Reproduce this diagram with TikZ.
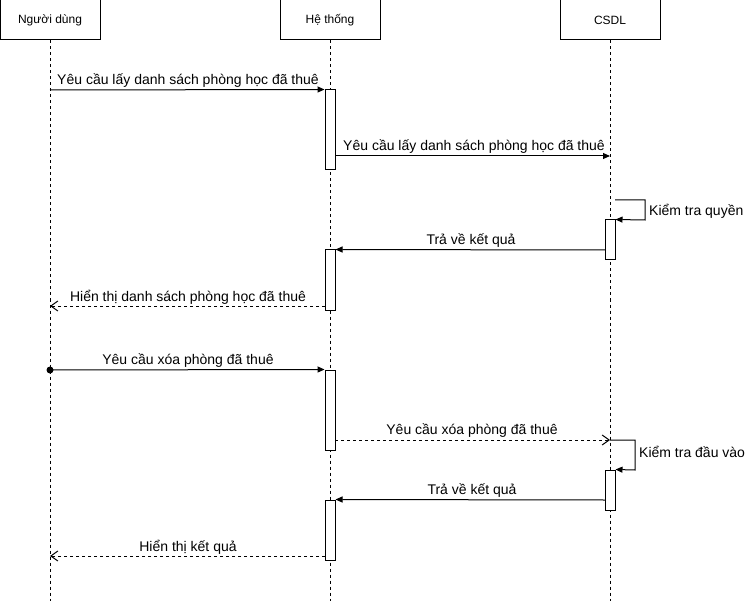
\documentclass[tikz,border=0pt]{standalone}
\usepackage{fontspec}
\setmainfont{Liberation Sans}
\usetikzlibrary{arrows.meta}
\begin{document}
\begin{tikzpicture}[x=1pt,y=-1pt,
  actor/.style={draw,line width=1pt,minimum width=100pt,minimum height=40pt,inner sep=0pt,font=\fontsize{12}{14}\selectfont},
  act/.style={draw,fill=white,line width=1pt,minimum width=10pt,inner sep=0pt},
  life/.style={line width=1pt,dash pattern=on 3pt off 3pt},
  msg/.style={line width=1pt,-{Triangle[length=7pt,width=6pt]}},
  ret/.style={line width=1pt,dash pattern=on 3pt off 3pt,-{Straight Barb[length=7pt,width=10pt,line width=1pt]}},
  lbl/.style={font=\fontsize{14}{16}\selectfont,inner sep=0pt}]
\useasboundingbox (0,0) rectangle (746,601);
% participants
\node[actor] (u) at (50,20) {Người dùng};
\node[actor] (s) at (330,20) {Hệ thống};
\node[actor] (d) at (610,20) {CSDL};
\coordinate (uend) at (50,601);
\coordinate (send) at (330,601);
\coordinate (dend) at (610,601);
\draw[life] (u.south) -- (uend);
\draw[life] (s.south) -- (send);
\draw[life] (d.south) -- (dend);
% activations
\node[act,minimum height=80pt] (a1) at (330,130) {};
\node[act,minimum height=60pt] (a2) at (330,280) {};
\node[act,minimum height=80pt] (a3) at (330,410) {};
\node[act,minimum height=60pt] (a4) at (330,530) {};
\node[act,minimum height=40pt] (b1) at (610,240) {};
\node[act,minimum height=40pt] (b2) at (610,490) {};
% endpoints
\coordinate (m1s) at (50,90);
\coordinate (m2s) at (335,156);
\coordinate (m2e) at (610,156);
\coordinate (k1s) at (615,200);
\coordinate (k1a) at (645,200);
\coordinate (k1b) at (645,220);
\coordinate (r1s) at (605,250);
\coordinate (h1s) at (325,306);
\coordinate (h1e) at (50,306);
\coordinate (m3s) at (50,370);
\coordinate (m4s) at (335,440);
\coordinate (m4e) at (610,440);
\coordinate (k2a) at (635,440);
\coordinate (k2b) at (635,470);
\coordinate (r2s) at (605,500);
\coordinate (h2s) at (325,556);
\coordinate (h2e) at (50,556);
% messages
\draw[msg] (m1s) -- (a1.north west);
\node[lbl] (l1) at (188,81) {Yêu cầu lấy danh sách phòng học đã thuê};
\draw[msg] (m2s) -- (m2e);
\node[lbl] (l2) at (474,147) {Yêu cầu lấy danh sách phòng học đã thuê};
\draw[msg] (k1s) -- (k1a) -- (k1b) -- (b1.north east);
\node[lbl,anchor=west] (l3) at (649,211) {Kiểm tra quyền};
\draw[msg] (r1s) -- (a2.north east);
\node[lbl] (l4) at (471,241) {Trả về kết quả};
\draw[ret] (h1s) -- (h1e);
\node[lbl] (l5) at (188,297) {Hiển thị danh sách phòng học đã thuê};
\fill (m3s) circle (3.5pt);
\draw[msg] (m3s) -- (a3.north west);
\node[lbl] (l6) at (188,361) {Yêu cầu xóa phòng đã thuê};
\draw[ret] (m4s) -- (m4e);
\node[lbl] (l7) at (472,431) {Yêu cầu xóa phòng đã thuê};
\draw[msg] (m4e) -- (k2a) -- (k2b) -- (b2.north east);
\node[lbl,anchor=west] (l8) at (639,452) {Kiểm tra đầu vào};
\draw[msg] (r2s) -- (a4.north east);
\node[lbl] (l9) at (472,491) {Trả về kết quả};
\draw[ret] (h2s) -- (h2e);
\node[lbl] (l10) at (188,547) {Hiển thị kết quả};
\end{tikzpicture}
\end{document}
